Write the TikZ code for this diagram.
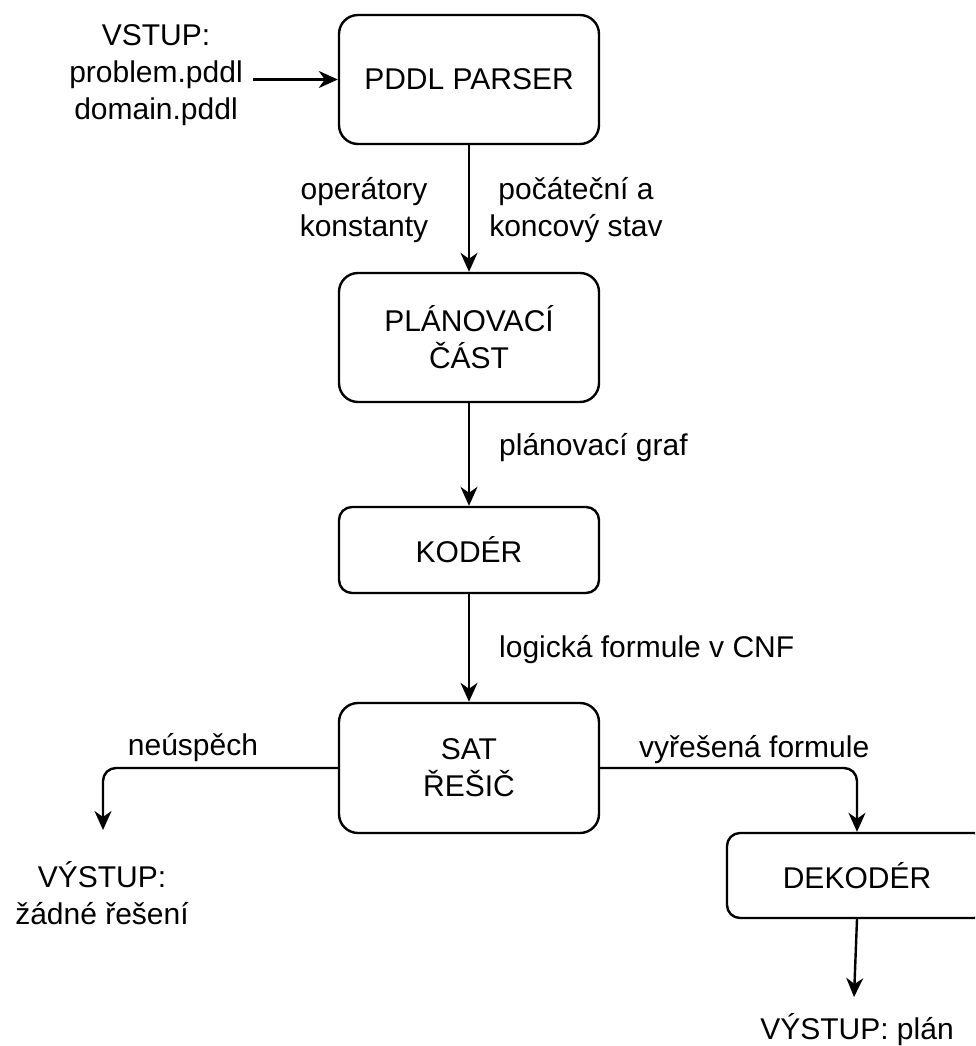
\documentclass[tikz,border=0pt]{standalone}
\usepackage{fontspec}
\setmainfont{Liberation Sans}
\usetikzlibrary{arrows.meta}
\tikzset{
  stage/.style={draw, line width=2.4pt, align=center, minimum width=260pt,
                rounded corners=19pt, inner sep=0pt},
  flat/.style={stage, rounded corners=13pt},
  txt/.style={align=center, inner sep=0pt},
  flow/.style={line width=2.4pt, -{Stealth[length=19pt,width=17pt,inset=6pt]}},
}
\begin{document}
\begin{tikzpicture}[x=1pt,y=-1pt,
  every node/.style={font=\fontsize{30}{37}\selectfont}]
\useasboundingbox (0,0) rectangle (975,1046);
\clip (0,0) rectangle (975,1046);

% pipeline stages
\node[stage, minimum height=129pt] (parser) at (469,79.5) {PDDL PARSER};
\node[stage, minimum height=129pt] (plan) at (469,337.5) {PLÁNOVACÍ\\ČÁST};
\node[flat, minimum height=86pt] (koder) at (469,550) {KODÉR};
\node[stage, minimum height=130pt] (sat) at (469,768) {SAT\\ŘEŠIČ};
\node[flat, minimum height=85pt] (dek) at (857,875.5) {DEKODÉR};

% inputs and outputs
\node[txt, inner sep=10pt] (input) at (156,75) {VSTUP:\\problem.pddl\\domain.pddl};
\node[txt] (fail) at (102,893) {VÝSTUP:\\žádné řešení};
\node[txt] (result) at (857,1030) {VÝSTUP: plán};
\coordinate (failtip) at (103,830);
\coordinate (resulttip) at (854,997);

% edge labels
\node[txt] (ops) at (364,210) {operátory\\konstanty};
\node[txt] (states) at (576,210) {počáteční a\\koncový stav};
\node[txt, anchor=west] (graph) at (499,448) {plánovací graf};
\node[txt, anchor=west] (cnf) at (499,650) {logická formule v CNF};
\node[txt] (nosol) at (193,748) {neúspěch};
\node[txt, anchor=west] (solved) at (639,750) {vyřešená formule};

% connectors
\draw[flow] (input.east |- parser.west) -- (parser.west);
\draw[flow] (parser.south) -- (plan.north);
\draw[flow] (plan.south) -- (koder.north);
\draw[flow] (koder.south) -- (sat.north);
\draw[flow, rounded corners=13pt] (sat.west) -| (failtip);
\draw[flow, rounded corners=13pt] (sat.east) -| (dek.north);
\draw[flow] (dek.south) -- (resulttip);
\end{tikzpicture}
\end{document}
